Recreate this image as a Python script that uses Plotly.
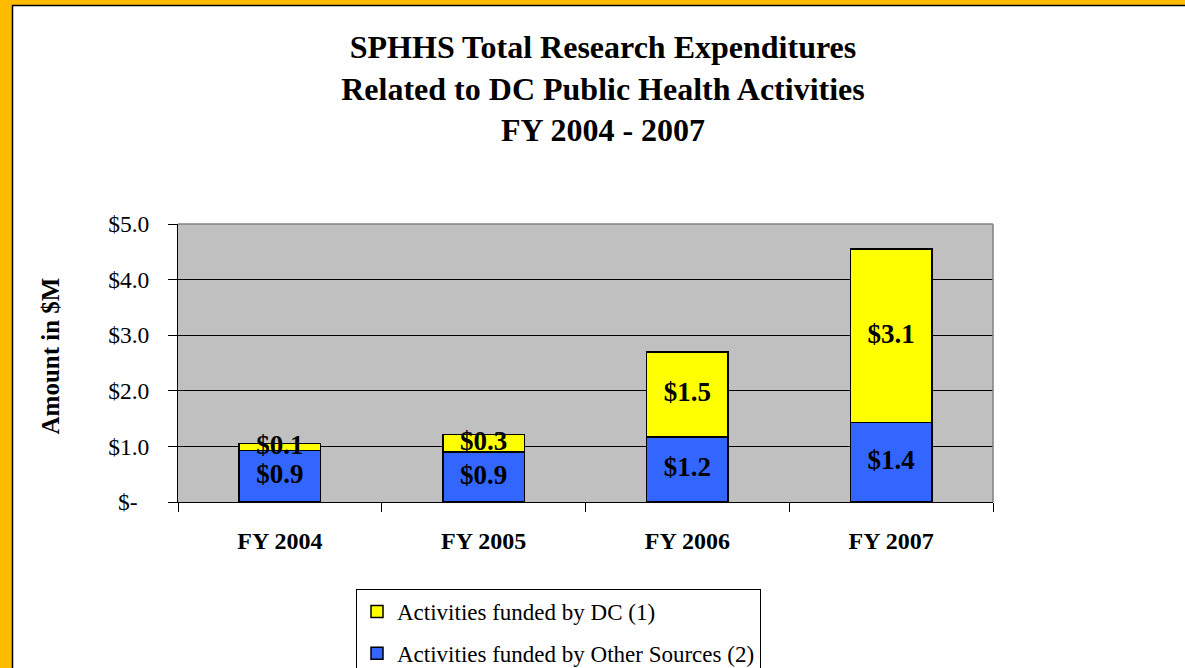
import numpy as np
import plotly.graph_objects as go

# ---------------- data ----------------
categories = ["FY 2004", "FY 2005", "FY 2006", "FY 2007"]
other_sources = [0.93, 0.90, 1.17, 1.43]   # Activities funded by Other Sources (2)
dc_funded = [0.12, 0.31, 1.53, 3.12]       # Activities funded by DC (1)
y_tick_vals = [0, 1, 2, 3, 4, 5]
y_tick_text = ["$-\u00a0\u00a0", "$1.0", "$2.0", "$3.0", "$4.0", "$5.0"]
title_lines = ["SPHHS Total Research Expenditures",
               "Related to DC Public Health Activities",
               "FY 2004 - 2007"]
name_dc = "Activities funded by DC (1)"
name_other = "Activities funded by Other Sources (2)"
y_title = "Amount in $M"

# ---------------- layout constants ----------------
W, H = 1185, 668
L, R, T, B = 178, 192, 224, 166
PW, PH = W - L - R, H - T - B
SERIF = "Liberation Serif, Times New Roman, serif"
ORANGE = "#FFBB00"


def px_x(px):
    return (px - L) / PW


def px_y(py):
    return (H - B - py) / PH


fig = go.Figure()
fig.add_trace(go.Bar(
    x=categories, y=other_sources, name=name_other, width=0.4,
    marker=dict(color="#3366FF", line=dict(color="black", width=1.5)),
    legendgroup="other", legendrank=2, hoverinfo="skip"))
fig.add_trace(go.Bar(
    x=categories, y=dc_funded, name=name_dc, width=0.4,
    marker=dict(color="#FFFF00", line=dict(color="black", width=1.5)),
    legendgroup="dc", legendrank=1, hoverinfo="skip"))

other_arr = np.array(other_sources)
dc_arr = np.array(dc_funded)
label_y = list(other_arr / 2) + list(other_arr + dc_arr / 2)
label_text = ["${:.1f}".format(v) for v in other_sources + dc_funded]
fig.add_trace(go.Scatter(
    x=categories + categories, y=label_y, text=label_text, mode="text",
    textfont=dict(family=SERIF, size=27, color="black", weight="bold"),
    showlegend=False, hoverinfo="skip", cliponaxis=False))

shapes = [
    # orange frame strips
    dict(type="rect", xref="paper", yref="paper", x0=px_x(-2), x1=px_x(12),
         y0=px_y(H + 2), y1=px_y(-2), fillcolor=ORANGE, line=dict(width=0), layer="above"),
    dict(type="rect", xref="paper", yref="paper", x0=px_x(-2), x1=px_x(W + 2),
         y0=px_y(5), y1=px_y(-2), fillcolor=ORANGE, line=dict(width=0), layer="above"),
    # black frame lines
    dict(type="line", xref="paper", yref="paper", x0=px_x(12.5), x1=px_x(12.5),
         y0=px_y(5), y1=px_y(H + 2), line=dict(color="black", width=1.5), layer="above"),
    dict(type="line", xref="paper", yref="paper", x0=px_x(12), x1=px_x(W + 2),
         y0=px_y(5.5), y1=px_y(5.5), line=dict(color="black", width=1.5), layer="above"),
    # gray top/right plot border
    dict(type="line", xref="paper", yref="paper", x0=0, x1=1, y0=1, y1=1,
         line=dict(color="#808080", width=1.5), layer="above"),
    dict(type="line", xref="paper", yref="paper", x0=1, x1=1, y0=0, y1=1,
         line=dict(color="#808080", width=1.5), layer="above"),
]

fig.update_layout(
    width=W, height=H,
    margin=dict(l=L, r=R, t=T, b=B, autoexpand=False),
    paper_bgcolor="white", plot_bgcolor="#C0C0C0",
    barmode="stack",
    showlegend=True,
    title=dict(text="<br>".join(title_lines), x=603 / W, xanchor="center",
               xref="container", yref="container", y=1 - 58 / H, yanchor="middle",
               font=dict(family=SERIF, size=32, color="black", weight="bold")),
    legend=dict(x=px_x(356), y=px_y(589), xanchor="left", yanchor="top",
                bgcolor="white", bordercolor="black", borderwidth=1,
                font=dict(family=SERIF, size=23, color="black"),
                traceorder="grouped", tracegroupgap=9),
    xaxis=dict(type="category", range=[-0.5, 3.5], showline=True, linecolor="black",
               linewidth=1, ticks="outside", tickson="boundaries", ticklen=9,
               tickcolor="black", showgrid=False, ticklabelstandoff=17,
               tickfont=dict(family=SERIF, size=24, color="black", weight="bold")),
    yaxis=dict(range=[0, 5], tickvals=y_tick_vals, ticktext=y_tick_text,
               ticks="outside", ticklen=9, tickcolor="black", showline=True,
               linecolor="black", linewidth=1, showgrid=True, gridcolor="black",
               gridwidth=1, zeroline=False, ticklabelstandoff=14,
               tickfont=dict(family=SERIF, size=23.5, color="black")),
    annotations=[dict(text=y_title, xref="paper", yref="paper", x=px_x(49.5),
                      y=px_y(356), textangle=-90, showarrow=False,
                      xanchor="center", yanchor="middle",
                      font=dict(family=SERIF, size=25, color="black", weight="bold"))],
    shapes=shapes,
)

fig.write_html("out.html", config={"displayModeBar": False},
               post_script="document.body.style.margin='0';")
